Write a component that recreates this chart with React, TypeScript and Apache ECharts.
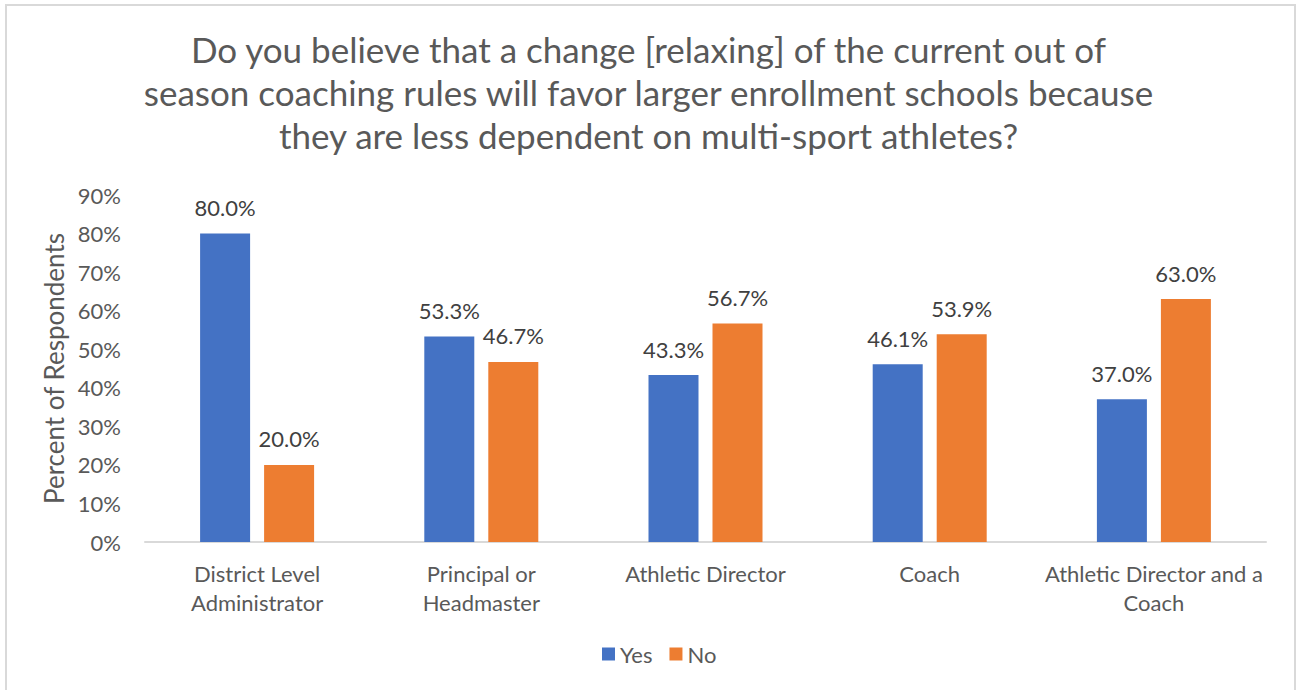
import React, { useEffect, useRef } from "react";
import * as echarts from "echarts";

const categories = [
  "District Level\nAdministrator",
  "Principal or\nHeadmaster",
  "Athletic Director",
  "Coach",
  "Athletic Director and a\nCoach",
];
const yesValues = [80.0, 53.3, 43.3, 46.1, 37.0];
const noValues = [20.0, 46.7, 56.7, 53.9, 63.0];

const FONT = "Lato, 'Open Sans', sans-serif";

export default function App() {
  const ref = useRef<HTMLDivElement>(null);
  useEffect(() => {
    if (!ref.current) return;
    const chart = echarts.init(ref.current, null, { renderer: "svg" });
    const labelStyle = {
      show: true,
      position: "top",
      distance: 15,
      formatter: (p: any) => p.value.toFixed(1) + "%",
      fontSize: 22,
      color: "#404040",
      fontFamily: FONT,
    };
    chart.setOption({
      animation: false,
      backgroundColor: "#ffffff",
      textStyle: { fontFamily: FONT },
      title: {
        text:
          "Do you believe that a change [relaxing] of the current out of\nseason coaching rules will favor larger enrollment schools because\nthey are less dependent on multi-sport athletes?",
        left: "center",
        top: 22,
        textStyle: {
          fontSize: 35,
          fontWeight: "normal",
          color: "#595959",
          lineHeight: 43,
          fontFamily: FONT,
          align: "center",
        },
      },
      legend: {
        data: ["Yes", "No"],
        bottom: 20,
        left: 597,
        itemWidth: 13,
        itemHeight: 13,
        itemGap: 17,
        icon: "rect",
        textStyle: { fontSize: 22, color: "#595959", fontFamily: FONT },
      },
      grid: { left: 145, right: 31, top: 195, bottom: 148 },
      xAxis: {
        type: "category",
        data: categories,
        axisLine: { show: true, lineStyle: { color: "#d9d9d9", width: 2 } },
        axisTick: { show: false },
        axisLabel: {
          fontSize: 22,
          color: "#595959",
          lineHeight: 29,
          margin: 17,
          interval: 0,
          fontFamily: FONT,
        },
      },
      yAxis: {
        type: "value",
        min: 0,
        max: 90,
        interval: 10,
        name: "Percent of Respondents",
        nameLocation: "middle",
        nameGap: 67,
        nameTextStyle: { fontSize: 26, color: "#595959", fontFamily: FONT },
        axisLine: { show: false },
        axisTick: { show: false },
        splitLine: { show: false },
        axisLabel: {
          formatter: "{value}%",
          fontSize: 22,
          color: "#595959",
          margin: 24,
          fontFamily: FONT,
        },
      },
      series: [
        {
          name: "Yes",
          type: "bar",
          data: yesValues,
          barWidth: 50,
          barGap: "28%",
          itemStyle: { color: "#4472c4" },
          label: labelStyle,
        },
        {
          name: "No",
          type: "bar",
          data: noValues,
          barWidth: 50,
          itemStyle: { color: "#ed7d31" },
          label: labelStyle,
        },
      ],
      graphic: [
        {
          type: "rect",
          shape: { x: 6, y: 5, width: 1289, height: 700 },
          style: { fill: "none", stroke: "#d9d9d9", lineWidth: 2 },
          silent: true,
        },
      ],
    });
    return () => chart.dispose();
  }, []);
  return (
    <div
      ref={ref}
      style={{ position: "fixed", left: 0, top: 0, width: 1297, height: 690 }}
    />
  );
}
